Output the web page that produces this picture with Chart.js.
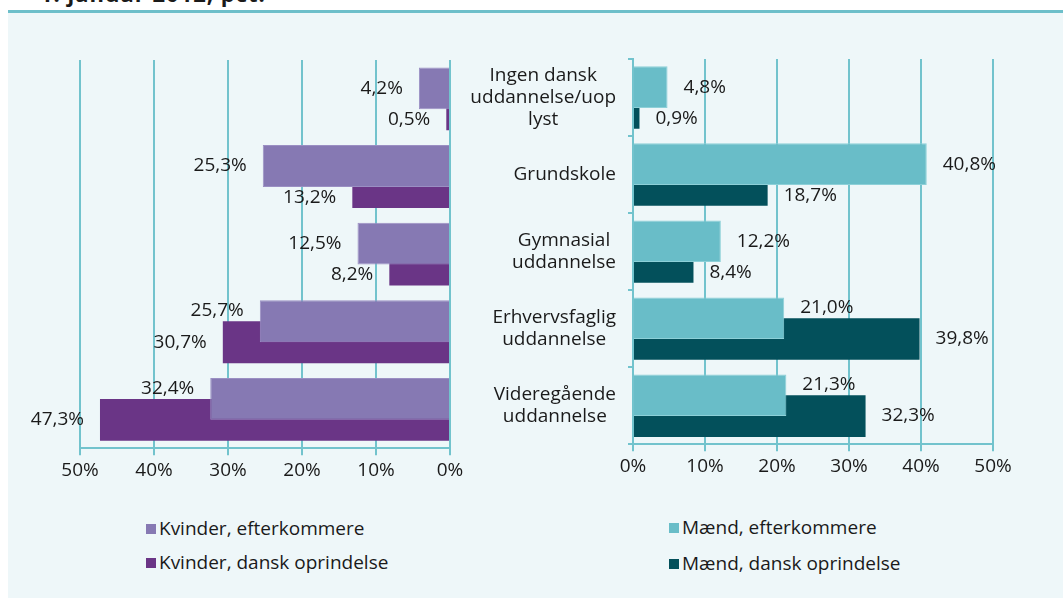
<!DOCTYPE html>
<html>
<head>
<meta charset="utf-8">
<script src="https://cdn.jsdelivr.net/npm/chart.js@4.4.1/dist/chart.umd.min.js"></script>
<style>
  body {
    margin: 0;
    width: 1063px;
    height: 601px;
    overflow: hidden;
    position: relative;
    background: #ffffff;
    font-family: 'Open Sans', sans-serif;
    color: #1a1a1a;
  }
  #title {
    position: absolute;
    left: 40px;
    top: -22px;
    font-size: 22px;
    font-weight: bold;
    letter-spacing: 1px;
    white-space: nowrap;
  }
  #panel {
    position: absolute;
    left: 8px;
    top: 10px;
    right: 0;
    height: 585px;
    background: #eef7f9;
    border-top: 3px solid #6dbfca;
  }
  canvas {
    position: absolute;
    top: 0;
  }
  #leftChart { left: 0; }
  #rightChart { left: 460px; }
  .legend-row {
    position: absolute;
    height: 23px;
    display: flex;
    align-items: center;
    font-size: 19px;
    line-height: 23px;
    white-space: nowrap;
  }
  .legend-box {
    width: 10px;
    height: 10px;
    margin-right: 3px;
  }
</style>
</head>
<body>
<div id="title">1. januar 2012, pct.</div>
<div id="panel"></div>
<canvas id="leftChart" width="470" height="500"></canvas>
<canvas id="rightChart" width="603" height="500"></canvas>
<div id="legends"></div>

<script>
(function () {

  'use strict';

  // Categories, top to bottom (line breaks as in the original axis).
  var categories = [
    ['Ingen dansk', 'uddannelse/uop', 'lyst'],
    ['Grundskole'],
    ['Gymnasial', 'uddannelse'],
    ['Erhvervsfaglig', 'uddannelse'],
    ['Videregående', 'uddannelse']
  ];

  var kvinderEfterkommere = [4.2, 25.3, 12.5, 25.7, 32.4];
  var kvinderDansk = [0.5, 13.2, 8.2, 30.7, 47.3];
  var maendEfterkommere = [4.8, 40.8, 12.2, 21.0, 21.3];
  var maendDansk = [0.9, 18.7, 8.4, 39.8, 32.3];

  var axisTicks = [0, 10, 20, 30, 40, 50];

  var seriesNames = [
    'Kvinder, efterkommere',
    'Kvinder, dansk oprindelse',
    'Mænd, efterkommere',
    'Mænd, dansk oprindelse'
  ];

  /**
   * Palette.
   */
  var LIGHT_PURPLE = '#8679b3';
  var DARK_PURPLE = '#6a3586';
  var LIGHT_TEAL = '#69bdc8';
  var DARK_TEAL = '#03505b';
  var GRID = '#72c3cd';
  var TEXT = '#1a1a1a';

  var FONT = { family: "'Open Sans', sans-serif", size: 19 };

  function formatPct(v) {
    return v.toFixed(1).replace('.', ',') + '%';
  }

  /**
   * Value labels next to the bar ends. When the partner bar in the
   * same category is longer, the label moves to the free half.
   */
  var barLabelPlugin = {
    id: 'barLabels',
    afterDatasetsDraw: function (chart, args, opts) {
      var ctx = chart.ctx;
      var sets = chart.data.datasets;
      ctx.save();
      ctx.font = FONT.size + 'px ' + FONT.family;
      ctx.fillStyle = TEXT;
      ctx.textBaseline = 'middle';
      ctx.textAlign = opts.side === 'left' ? 'right' : 'left';
      sets.forEach(function (ds, di) {
        var other = sets[1 - di].data;
        chart.getDatasetMeta(di).data.forEach(function (bar, i) {
          var y = bar.y;
          if (ds.data[i] < other[i]) {
            y += (di === 0 ? -1 : 1) * bar.height / 4;
          }
          var x = opts.side === 'left' ? bar.x - opts.gap : bar.x + opts.gap;
          ctx.fillText(formatPct(ds.data[i]), x, y);
        });
      });
      ctx.restore();
    }
  };

  /**
   * Category labels: lines centred on each other, block right-aligned.
   */
  var categoryLabelPlugin = {
    id: 'categoryLabels',
    afterDraw: function (chart, args, opts) {
      if (!opts.right) {
        return;
      }
      var ctx = chart.ctx;
      var scale = chart.scales.y;
      ctx.save();
      ctx.font = FONT.size + 'px ' + FONT.family;
      ctx.fillStyle = TEXT;
      ctx.textBaseline = 'middle';
      ctx.textAlign = 'center';
      categories.forEach(function (lines, i) {
        var w = 0;
        lines.forEach(function (l) { w = Math.max(w, ctx.measureText(l).width); });
        var cx = opts.right - w / 2;
        var cy = scale.getPixelForTick(i) - (lines.length - 1) * opts.lineHeight / 2;
        lines.forEach(function (l, k) {
          ctx.fillText(l, cx, cy + k * opts.lineHeight);
        });
      });
      ctx.restore();
    }
  };

  function xScale(reverse) {
    return {
      reverse: reverse,
      min: axisTicks[0],
      max: axisTicks[axisTicks.length - 1],
      afterBuildTicks: function (s) {
        s.ticks = axisTicks.map(function (v) { return { value: v }; });
      },
      ticks: {
        color: TEXT,
        font: FONT,
        padding: 4,
        maxRotation: 0,
        callback: function (v) { return v + '%'; }
      },
      grid: { color: GRID, lineWidth: 2, tickLength: 7 },
      border: { color: GRID, width: 2 }
    };
  }

  function dataset(label, values, color, edge) {
    return {
      label: label,
      data: values,
      backgroundColor: color,
      borderColor: edge,
      borderWidth: edge ? 1 : 0,
      categoryPercentage: 0.54,
      barPercentage: 2
    };
  }

  // Left: women, axis runs right to left.
  new Chart(document.getElementById('leftChart'), {
    type: 'bar',
    data: {
      labels: categories,
      datasets: [
        dataset(seriesNames[0], kvinderEfterkommere, LIGHT_PURPLE, '#9a8fc3'),
        dataset(seriesNames[1], kvinderDansk, DARK_PURPLE, null)
      ]
    },
    options: {
      indexAxis: 'y',
      responsive: false,
      animation: false,
      layout: { padding: { left: 80, right: 20, top: 60, bottom: 14 } },
      scales: {
        x: xScale(true),
        y: { display: false }
      },
      plugins: {
        legend: { display: false },
        tooltip: { enabled: false },
        barLabels: { side: 'left', gap: 16 },
        categoryLabels: {}
      }
    },
    plugins: [barLabelPlugin, categoryLabelPlugin]
  });

  // Right: men, with the shared category labels.
  new Chart(document.getElementById('rightChart'), {
    type: 'bar',
    data: {
      labels: categories,
      datasets: [
        dataset(seriesNames[2], maendEfterkommere, LIGHT_TEAL, '#8dd0d8'),
        dataset(seriesNames[3], maendDansk, DARK_TEAL, null)
      ]
    },
    options: {
      indexAxis: 'y',
      responsive: false,
      animation: false,
      layout: { padding: { left: 13, right: 70, top: 59, bottom: 18 } },
      scales: {
        x: xScale(false),
        y: {
          ticks: { color: 'transparent', font: FONT },
          grid: { drawOnChartArea: false, color: GRID, lineWidth: 2, tickLength: 5 },
          border: { color: GRID, width: 2 },
          afterFit: function (s) { s.width = 160; }
        }
      },
      plugins: {
        legend: { display: false },
        tooltip: { enabled: false },
        barLabels: { side: 'right', gap: 16 },
        categoryLabels: { right: 156, lineHeight: 22 }
      }
    },
    plugins: [barLabelPlugin, categoryLabelPlugin]
  });

  /**
   * Legends as plain HTML, one entry per row.
   */
  var legendSpec = [
    { name: seriesNames[0], color: LIGHT_PURPLE, left: 146, top: 517 },
    { name: seriesNames[1], color: DARK_PURPLE, left: 146, top: 551 },
    { name: seriesNames[2], color: LIGHT_TEAL, left: 669, top: 516 },
    { name: seriesNames[3], color: DARK_TEAL, left: 669, top: 552 }
  ];
  var holder = document.getElementById('legends');
  legendSpec.forEach(function (item) {
    var row = document.createElement('div');
    row.className = 'legend-row';
    row.style.left = item.left + 'px';
    row.style.top = item.top + 'px';
    var box = document.createElement('span');
    box.className = 'legend-box';
    box.style.background = item.color;
    var txt = document.createElement('span');
    txt.textContent = item.name;
    row.appendChild(box);
    row.appendChild(txt);
    holder.appendChild(row);
  });

})();
</script>
</body>
</html>
